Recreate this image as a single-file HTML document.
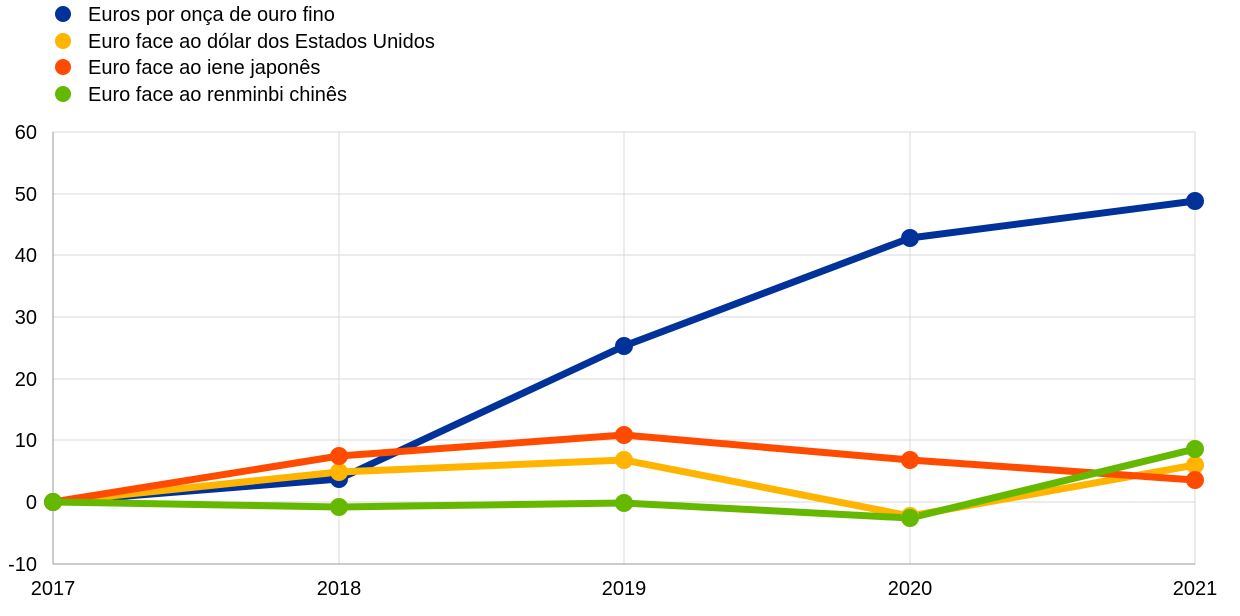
<!DOCTYPE html>
<html><head><meta charset="utf-8"><style>
body{margin:0;background:#fff;}
svg text{font-family:"Liberation Sans",sans-serif;fill:#000;}
</style></head><body>
<svg width="1240" height="611" xmlns="http://www.w3.org/2000/svg">
<g stroke="#d9d9d9" stroke-width="1">
<line x1="53" y1="132" x2="1195" y2="132"/>
<line x1="53" y1="194" x2="1195" y2="194"/>
<line x1="53" y1="255" x2="1195" y2="255"/>
<line x1="53" y1="317" x2="1195" y2="317"/>
<line x1="53" y1="379" x2="1195" y2="379"/>
<line x1="53" y1="440" x2="1195" y2="440"/>
<line x1="53" y1="502" x2="1195" y2="502"/>
<line x1="339" y1="132" x2="339" y2="564"/>
<line x1="624" y1="132" x2="624" y2="564"/>
<line x1="910" y1="132" x2="910" y2="564"/>
<line x1="1195" y1="132" x2="1195" y2="564"/>
</g>
<line x1="53" y1="132" x2="53" y2="564" stroke="#999" stroke-width="1"/>
<line x1="53" y1="564" x2="1195" y2="564" stroke="#999" stroke-width="1"/>
<g font-size="20" text-anchor="end">
<text x="37" y="139">60</text><text x="37" y="201">50</text><text x="37" y="262">40</text>
<text x="37" y="324">30</text><text x="37" y="386">20</text><text x="37" y="447">10</text>
<text x="37" y="509">0</text><text x="37" y="571">-10</text>
</g>
<g font-size="20" text-anchor="middle">
<text x="53" y="595">2017</text><text x="339" y="595">2018</text><text x="624" y="595">2019</text>
<text x="910" y="595">2020</text><text x="1195" y="595">2021</text>
</g>
<g fill="none" stroke-width="7" stroke-linejoin="round">
<polyline stroke="#003299" points="53,502 339,479 624,346 910,238 1195,201"/>
<polyline stroke="#ffb400" points="53,502 339,472 624,460 910,516 1195,465"/>
<polyline stroke="#ff4b00" points="53,502 339,456 624,435 910,460 1195,480"/>
<polyline stroke="#65b800" points="53,502 339,507 624,503 910,518 1195,449"/>
</g>
<g fill="#003299"><circle cx="53" cy="502" r="9"/><circle cx="339" cy="479" r="9"/><circle cx="624" cy="346" r="9"/><circle cx="910" cy="238" r="9"/><circle cx="1195" cy="201" r="9"/></g>
<g fill="#ffb400"><circle cx="53" cy="502" r="9"/><circle cx="339" cy="472" r="9"/><circle cx="624" cy="460" r="9"/><circle cx="910" cy="516" r="9"/><circle cx="1195" cy="465" r="9"/></g>
<g fill="#ff4b00"><circle cx="53" cy="502" r="9"/><circle cx="339" cy="456" r="9"/><circle cx="624" cy="435" r="9"/><circle cx="910" cy="460" r="9"/><circle cx="1195" cy="480" r="9"/></g>
<g fill="#65b800"><circle cx="53" cy="502" r="9"/><circle cx="339" cy="507" r="9"/><circle cx="624" cy="503" r="9"/><circle cx="910" cy="518" r="9"/><circle cx="1195" cy="449" r="9"/></g>
<circle cx="63" cy="14" r="8" fill="#003299"/>
<circle cx="63" cy="41" r="8" fill="#ffb400"/>
<circle cx="63" cy="67" r="8" fill="#ff4b00"/>
<circle cx="63" cy="94" r="8" fill="#65b800"/>
<g font-size="20">
<text x="88" y="21">Euros por onça de ouro fino</text>
<text x="88" y="48">Euro face ao dólar dos Estados Unidos</text>
<text x="88" y="74">Euro face ao iene japonês</text>
<text x="88" y="101">Euro face ao renminbi chinês</text>
</g>
</svg>
</body></html>
